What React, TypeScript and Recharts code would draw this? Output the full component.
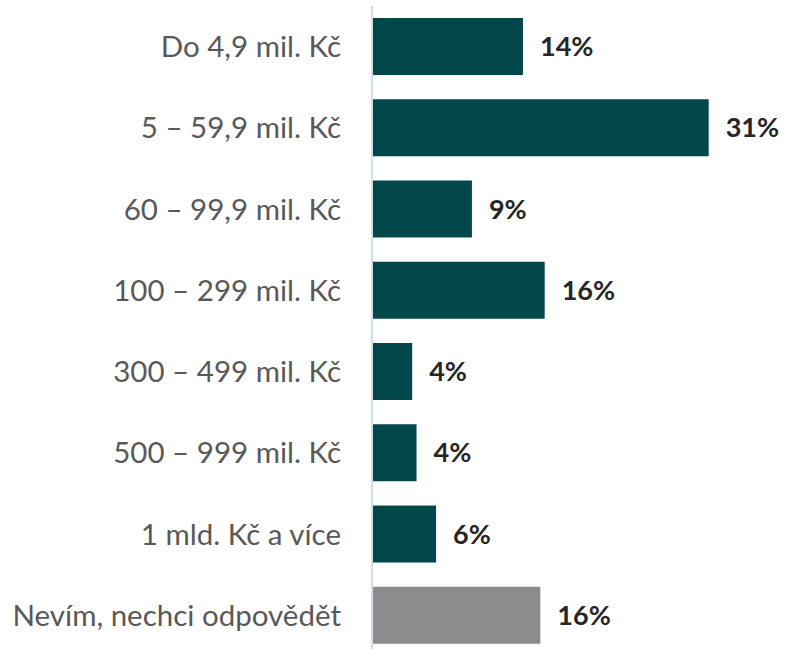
import { BarChart, Bar, XAxis, YAxis, Cell, LabelList } from 'recharts';

const categories = [
  'Do 4,9 mil. Kč',
  '5 – 59,9 mil. Kč',
  '60 – 99,9 mil. Kč',
  '100 – 299 mil. Kč',
  '300 – 499 mil. Kč',
  '500 – 999 mil. Kč',
  '1 mld. Kč a více',
  'Nevím, nechci odpovědět',
];

// share of respondents, %
const shares = [13.9, 31, 9.2, 15.9, 3.7, 4.1, 5.9, 15.5];

const BAR_COLOR = '#02484b';
const OTHER_COLOR = '#8c8c8c';

const data = categories.map((name, i) => ({ name, value: shares[i] }));

export default function App() {
  return (
    <div style={{ position: 'absolute', left: 0, top: 0, background: '#fff' }}>
      <BarChart
        layout="vertical"
        width={785}
        height={660}
        data={data}
        margin={{ top: 6, right: 22, bottom: 4, left: 0 }}
      >
        <XAxis type="number" domain={[0, 36]} hide />
        <YAxis
          type="category"
          dataKey="name"
          width={372}
          tickLine={false}
          tickSize={0}
          tickMargin={31}
          axisLine={{ stroke: '#cfdcf1', strokeWidth: 2 }}
          tick={{ fill: '#595959', fontSize: 29.5, fontFamily: 'Lato' }}
          interval={0}
        />
        <Bar dataKey="value" barSize={57} isAnimationActive={false}>
          {data.map((d, i) => (
            <Cell key={`cell-${i}`} fill={i === data.length - 1 ? OTHER_COLOR : BAR_COLOR} />
          ))}
          <LabelList
            dataKey="value"
            position="right"
            offset={17}
            formatter={(v: any) => `${Math.round(Number(v))}%`}
            style={{ fill: '#262626', fontSize: 27, fontWeight: 700, fontFamily: 'Lato' }}
          />
        </Bar>
      </BarChart>
    </div>
  );
}
